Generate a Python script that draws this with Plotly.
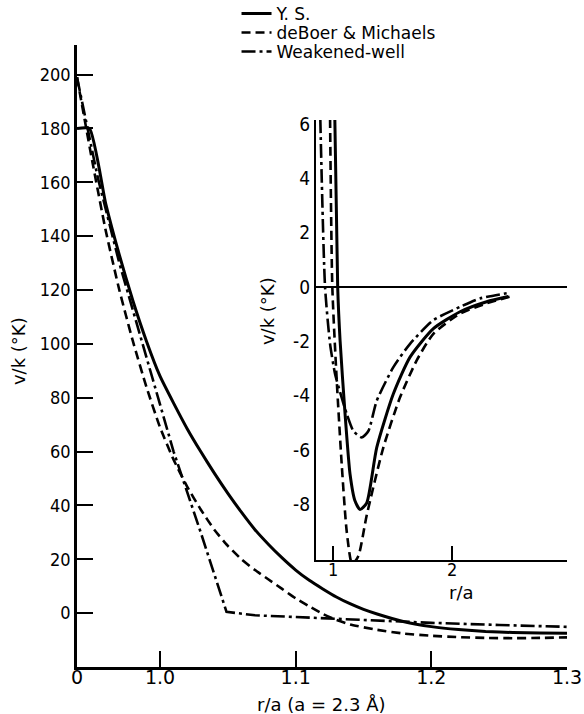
import plotly.graph_objects as go

# ---------------- main panel: v/k (K) versus r/a ----------------
X_ORIGIN = 0.9388  # left end of the broken r/a axis (labelled "0")

ys_r = [X_ORIGIN, 0.948, 0.96, 0.97, 0.98, 0.99, 1.00, 1.01, 1.02, 1.03, 1.04,
        1.05, 1.06, 1.07, 1.08, 1.09, 1.10, 1.11, 1.12, 1.13, 1.14, 1.15,
        1.16, 1.18, 1.20, 1.22, 1.24, 1.26, 1.28, 1.30]
ys_v = [180, 180, 152, 133, 116, 101, 88, 78, 68.5, 60, 52,
        44.5, 37.5, 31, 25.5, 20.5, 16.0, 12.2, 9.0, 6.0, 3.5, 1.4,
        -0.3, -3.2, -5.0, -6.1, -6.8, -7.2, -7.4, -7.5]

dbm_r = [X_ORIGIN, 0.95, 0.96, 0.97, 0.98, 0.99, 1.00, 1.01, 1.02, 1.03, 1.04,
         1.05, 1.06, 1.07, 1.08, 1.09, 1.10, 1.11, 1.12, 1.13, 1.14, 1.16,
         1.18, 1.20, 1.22, 1.24, 1.26, 1.28, 1.30]
dbm_v = [199, 168, 142, 120, 101, 84, 69, 57, 47, 38.5, 31,
         25, 20, 16, 12.5, 9, 5.5, 2.5, -0.3, -2.5, -4.2, -6.2,
         -7.6, -8.4, -8.9, -9.2, -9.3, -9.2, -9.0]

ww_r = [X_ORIGIN, 0.954, 0.97, 0.99, 1.01, 1.03, 1.049, 1.07, 1.10, 1.15,
        1.20, 1.25, 1.30]
ww_v = [199, 162, 130, 95, 60, 30, 0.5, -0.8, -1.5, -2.6,
        -3.6, -4.4, -5.1]

x_tick_vals = [X_ORIGIN, 1.0, 1.1, 1.2, 1.3]
x_tick_text = ["0", "1.0", "1.1", "1.2", "1.3"]
y_tick_vals = [0, 20, 40, 60, 80, 100, 120, 140, 160, 180, 200]

# ---------------- inset: well region over a wider r/a range ----------------
ys_in_r = [1.015, 1.039, 1.059, 1.101, 1.143, 1.185, 1.227, 1.283, 1.367,
           1.507, 1.647, 1.843, 2.067, 2.291, 2.473]
ys_in_v = [6.2, 0.0, -1.96, -4.67, -6.89, -7.88, -8.19, -7.95, -5.91,
           -3.93, -2.58, -1.53, -0.91, -0.54, -0.35]

dbm_in_r = [0.975, 0.994, 1.031, 1.073, 1.115, 1.16, 1.213, 1.283, 1.423,
            1.563, 1.703, 1.843, 2.067, 2.291, 2.487]
dbm_in_v = [6.2, 0.0, -3.44, -6.53, -9.0, -10.2, -9.9, -8.4, -5.9,
            -4.06, -2.7, -1.72, -0.98, -0.60, -0.35]

ww_in_r = [0.893, 0.933, 0.975, 1.017, 1.059, 1.115, 1.171, 1.241, 1.297,
           1.367, 1.507, 1.647, 1.843, 2.067, 2.235, 2.459]
ww_in_v = [6.2, 0.0, -2.09, -3.2, -3.87, -4.67, -5.30, -5.54, -5.30,
           -4.19, -2.95, -2.09, -1.22, -0.73, -0.42, -0.23]

in_y_tick_vals = [-8, -6, -4, -2, 0, 2, 4, 6]
in_y_tick_text = ["-8", "-6", "-4", "-2", "0", "2", "4", "6"]

SERIES = ["Y. S.", "deBoer & Michaels", "Weakened-well"]
DASHES = ["solid", "9px,5px", "14px,4px,3px,4px"]
WIDTHS = [3, 2.6, 2.6]
MAIN_SHAPES = ["spline", "spline", "linear"]
LEGEND_IDS = ["legend", "legend2", "legend3"]

NARROW = "DejaVu Sans Condensed, Liberation Sans Narrow, Liberation Sans, sans-serif"
WIDE = "DejaVu Sans, Liberation Sans, sans-serif"

fig = go.Figure()

main_sets = [(ys_r, ys_v), (dbm_r, dbm_v), (ww_r, ww_v)]
for name, (rx, vy), dash, w, shp, lg in zip(SERIES, main_sets, DASHES, WIDTHS,
                                            MAIN_SHAPES, LEGEND_IDS):
    fig.add_trace(go.Scatter(x=rx, y=vy, mode="lines", name=name, legend=lg,
                             line=dict(color="black", width=w, dash=dash,
                                       shape=shp, smoothing=0.5),
                             xaxis="x", yaxis="y"))

inset_sets = [(ys_in_r, ys_in_v), (dbm_in_r, dbm_in_v), (ww_in_r, ww_in_v)]
for name, (rx, vy), dash, w in zip(SERIES, inset_sets, DASHES, WIDTHS):
    fig.add_trace(go.Scatter(x=rx, y=vy, mode="lines", name=name,
                             showlegend=False,
                             line=dict(color="black", width=w, dash=dash,
                                       shape="spline", smoothing=0.6),
                             xaxis="x2", yaxis="y2"))

# one legend per series so the three rows sit tightly stacked
legend_rows_y = [14, 33, 52]  # row centres, px from the top
legend_style = dict(xref="container", yref="container", x=0.405,
                    xanchor="left", yanchor="middle",
                    bgcolor="rgba(0,0,0,0)", font=dict(family=WIDE, size=17))
legends = {lg: dict(legend_style, y=1 - py / 714)
           for lg, py in zip(LEGEND_IDS, legend_rows_y)}

fig.update_layout(
    width=584, height=714,
    margin=dict(l=77, r=17, t=45, b=47, autoexpand=False),
    paper_bgcolor="white", plot_bgcolor="white",
    font=dict(family=NARROW, color="black"),
    showlegend=True,
    **legends,
    xaxis=dict(range=[X_ORIGIN, 1.3], domain=[0, 1],
               showline=True, linewidth=2.5, linecolor="black",
               ticks="inside", ticklen=16, tickwidth=2, tickcolor="black",
               tickvals=x_tick_vals, ticktext=x_tick_text,
               tickfont=dict(family=WIDE, size=19), ticklabelstandoff=-9,
               showgrid=False, zeroline=False),
    yaxis=dict(range=[-20, 211], domain=[0, 1],
               showline=True, linewidth=2.5, linecolor="black",
               ticks="inside", ticklen=16, tickwidth=2, tickcolor="black",
               tickvals=y_tick_vals, tickfont=dict(size=18),
               showgrid=False, zeroline=False),
    xaxis2=dict(range=[0.857, 2.966], domain=[0.4878, 1.0], anchor="y2",
                showline=True, linewidth=2.2, linecolor="black",
                ticks="inside", ticklen=14, tickwidth=2, tickcolor="black",
                tickvals=[1, 2], ticktext=["1", "2"],
                tickfont=dict(size=18), ticklabelstandoff=-8,
                showgrid=False, zeroline=False),
    yaxis2=dict(range=[-10.05, 6.15], domain=[0.172, 0.8794], anchor="x2",
                showline=True, linewidth=2.2, linecolor="black",
                ticks="", tickvals=in_y_tick_vals, ticktext=in_y_tick_text,
                tickfont=dict(size=19),
                showgrid=False, zeroline=True, zerolinecolor="black",
                zerolinewidth=2.2),
)

# axis titles
title_font = dict(family=WIDE, size=18, color="black")
centred = dict(xref="paper", yref="paper", showarrow=False,
               xanchor="center", yanchor="middle", font=title_font)
fig.add_annotation(text="r/a (a = 2.3 Å)", x=0.498, y=-0.0595, **centred)
fig.add_annotation(text="v/k (°K)", x=-0.1204, y=0.508, textangle=-90, **centred)
fig.add_annotation(text="v/k (°K)", x=0.3878, y=0.5723, textangle=-90, **centred)
fig.add_annotation(text="r/a", x=0.7857, y=0.1190, **centred)

fig.write_html("out.html")
